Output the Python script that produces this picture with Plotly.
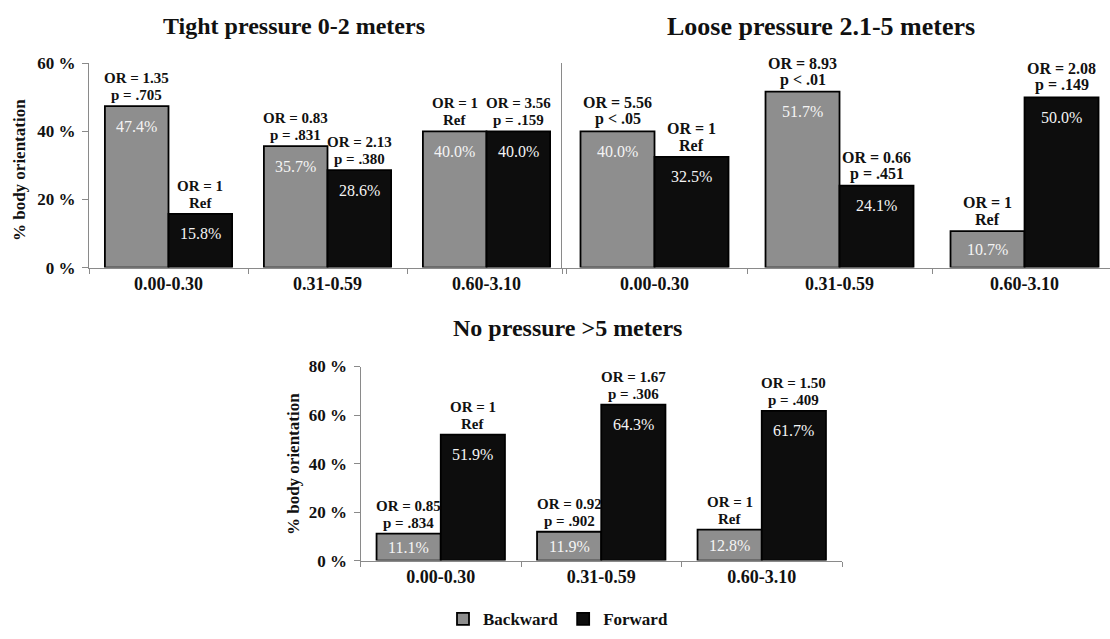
import plotly.graph_objects as go

W, H = 1110, 639

categories = ["0.00-0.30", "0.31-0.59", "0.60-3.10"]

tight_backward = [47.4, 35.7, 40.0]
tight_forward = [15.8, 28.6, 40.0]
loose_backward = [40.0, 51.7, 10.7]
loose_forward = [32.5, 24.1, 50.0]
none_backward = [11.1, 11.9, 12.8]
none_forward = [51.9, 64.3, 61.7]

tight_backward_or = ["OR = 1.35", "OR = 0.83", "OR = 1"]
tight_backward_p = ["p = .705", "p = .831", "Ref"]
tight_forward_or = ["OR = 1", "OR = 2.13", "OR = 3.56"]
tight_forward_p = ["Ref", "p = .380", "p = .159"]
loose_backward_or = ["OR = 5.56", "OR = 8.93", "OR = 1"]
loose_backward_p = ["p &lt; .05", "p &lt; .01", "Ref"]
loose_forward_or = ["OR = 1", "OR = 0.66", "OR = 2.08"]
loose_forward_p = ["Ref", "p = .451", "p = .149"]
none_backward_or = ["OR = 0.85", "OR = 0.92", "OR = 1"]
none_backward_p = ["p = .834", "p = .902", "Ref"]
none_forward_or = ["OR = 1", "OR = 1.67", "OR = 1.50"]
none_forward_p = ["Ref", "p = .306", "p = .409"]

panel_titles = ["Tight pressure 0-2 meters", "Loose pressure 2.1-5 meters", "No pressure >5 meters"]
series_names = ["Backward", "Forward"]
y_title = "% body orientation"
top_ticks = [0, 20, 40, 60]
bottom_ticks = [0, 20, 40, 60, 80]

FONT = "Liberation Serif"
GRAY = "#8e8e8e"
BLACK = "#0d0d0d"
AXIS = "#8a8a8a"
BARGAP = 0.2


def px_x(p):
    return p / W


def px_y(p):
    return 1 - p / H


panels = [
    dict(ax="", b=tight_backward, f=tight_forward,
         bor=tight_backward_or, bp=tight_backward_p, fo=tight_forward_or, fp=tight_forward_p,
         xd=(89, 566), yd=(266.5, 56), yr=60, xr=[-0.5, 2.5], ticks=top_ticks, labels=True, afs=15),
    dict(ax="2", b=loose_backward, f=loose_forward,
         bor=loose_backward_or, bp=loose_backward_p, fo=loose_forward_or, fp=loose_forward_p,
         xd=(562, 1110), yd=(266.5, 56), yr=60, xr=[-0.5, 2.462], ticks=top_ticks, labels=False, afs=16),
    dict(ax="3", b=none_backward, f=none_forward,
         bor=none_backward_or, bp=none_backward_p, fo=none_forward_or, fp=none_forward_p,
         xd=(360.5, 842), yd=(568.5, 368.5), yr=80, xr=[-0.5, 2.5], ticks=bottom_ticks, labels=True, afs=15),
]

fig = go.Figure()
annotations = []
layout = {}

for k, p in enumerate(panels):
    xa = "x" + p["ax"]
    ya = "y" + p["ax"]
    for vals, name, col in ((p["b"], series_names[0], GRAY), (p["f"], series_names[1], BLACK)):
        fig.add_trace(go.Bar(
            x=categories, y=vals, name=name, xaxis=xa, yaxis=ya,
            marker=dict(color=col, line=dict(color="#000000", width=1.8)),
            showlegend=(k == 0), legendgroup=name, hoverinfo="x+y",
        ))
    ppu = (p["yd"][0] - p["yd"][1]) / p["yr"]
    half = (1 - BARGAP) / 4
    for i in range(len(categories)):
        for vals, l1, l2, off in ((p["b"], p["bor"], p["bp"], -half), (p["f"], p["fo"], p["fp"], half)):
            v = vals[i]
            for txt, ys in ((l1[i], 19), (l2[i], 2)):
                annotations.append(dict(
                    x=i + off, y=v, xref=xa, yref=ya, text=txt, showarrow=False,
                    yanchor="bottom", xanchor="center", yshift=ys, borderpad=0,
                    font=dict(family=FONT, size=p["afs"], color="#111111", weight="bold"),
                ))
            shift = -min(20.0, v * ppu / 2)
            annotations.append(dict(
                x=i + off, y=v, xref=xa, yref=ya, text=f"{v:.1f}%", showarrow=False,
                yanchor="middle", xanchor="center", yshift=shift,
                font=dict(family=FONT, size=16, color="#f4f4f4"),
            ))
    xkey = "xaxis" + p["ax"]
    ykey = "yaxis" + p["ax"]
    layout[xkey] = dict(
        domain=[px_x(p["xd"][0]), px_x(p["xd"][1])], anchor=ya, type="category",
        range=p["xr"], showline=True, linecolor=AXIS, linewidth=1,
        ticks="outside", tickson="boundaries", ticklen=5, tickcolor=AXIS,
        showgrid=False, zeroline=False,
        tickfont=dict(family=FONT, size=18, color="#111111", weight="bold"),
    )
    layout[ykey] = dict(
        domain=[px_y(p["yd"][0]), px_y(p["yd"][1])], anchor=xa, range=[0, p["yr"]],
        showline=True, linecolor=AXIS, linewidth=1, showgrid=False, zeroline=False,
        ticks="outside" if p["labels"] else "", ticklen=6, tickcolor=AXIS,
        tickvals=p["ticks"], ticktext=[f"{t} %" for t in p["ticks"]],
        showticklabels=p["labels"], ticklabelstandoff=3,
        tickfont=dict(family=FONT, size=17, color="#111111", weight="bold"),
    )

# panel titles
for title, (cx, cy), fs in zip(panel_titles, [(294, 18), (821, 18), (567, 329)], [24, 26, 24]):
    annotations.append(dict(
        x=px_x(cx), y=px_y(cy), xref="paper", yref="paper", text=title, showarrow=False,
        xanchor="center", yanchor="middle",
        font=dict(family=FONT, size=fs, color="#111111", weight="bold"),
    ))

# y-axis titles
for (cx, cy) in [(19, 166), (293, 469)]:
    annotations.append(dict(
        x=px_x(cx), y=px_y(cy), xref="paper", yref="paper", text=y_title, showarrow=False,
        textangle=-90, xanchor="center", yanchor="middle",
        font=dict(family=FONT, size=17, color="#111111", weight="bold"),
    ))

fig.update_layout(
    width=W, height=H, margin=dict(l=0, r=0, t=0, b=0),
    paper_bgcolor="white", plot_bgcolor="white",
    barmode="group", bargap=BARGAP, bargroupgap=0,
    annotations=annotations,
    legend=dict(orientation="h", x=px_x(558), xanchor="center", y=px_y(629), yanchor="middle",
                font=dict(family=FONT, size=17, color="#111111", weight="bold"),
                itemwidth=30, tracegroupgap=0, bgcolor="rgba(0,0,0,0)"),
    **layout,
)

fig.write_html("out.html")
